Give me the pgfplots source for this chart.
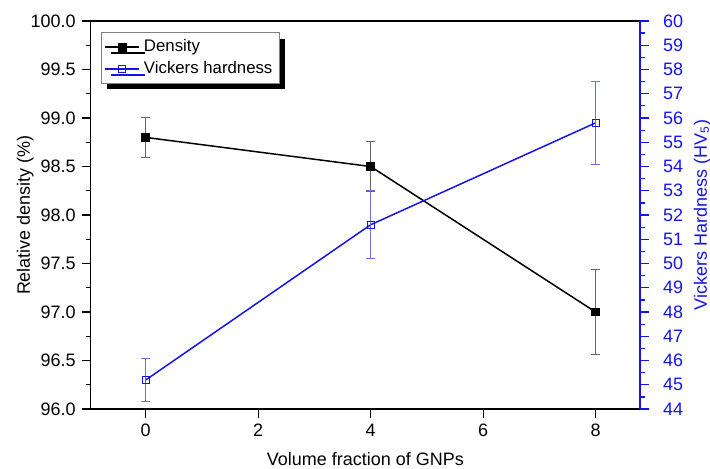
\documentclass[border=0pt]{standalone}
\usepackage{fontspec}
\setmainfont{Liberation Sans}
\usepackage{pgfplots}
\pgfplotsset{compat=1.18}
\usetikzlibrary{shadows}

\definecolor{hvblue}{RGB}{20,20,235}
\definecolor{hverr}{RGB}{110,110,230}
\definecolor{derr}{RGB}{100,100,100}

\pgfplotstableread{
x   y     e
0   98.80 0.21
4   98.50 0.26
8   97.00 0.44
}\density

\pgfplotstableread{
x   y     e
0   45.2  0.88
4   51.6  1.4
8   55.8  1.7
}\hardness

\begin{document}
\fontsize{9}{11}\selectfont
\begin{tikzpicture}
\pgfplotsset{
  every axis/.append style={
    scale only axis, width=275pt, height=194.25pt,
    xmin=-0.98, xmax=8.79,
    tick align=outside,
    major tick length=4.3pt, minor tick length=2.3pt,
    /pgf/number format/assume math mode=true,
    font=\fontsize{9}{11}\selectfont,
    axis line style={line width=0.75pt},
    every tick/.style={line width=0.6pt},
  },
}
\begin{axis}[
  name=ax,
  axis y line*=left, axis x line*=bottom,
  axis line style={-},
  xtick={0,2,4,6,8}, minor xtick={},
  ymin=96, ymax=100, ytick distance=0.5, minor y tick num=1,
  yticklabel style={/pgf/number format/.cd, fixed, fixed zerofill, precision=1},
  xlabel={Volume fraction of GNPs},
  xlabel style={at={(rel axis cs:0.5,-0.129)}, anchor=center},
  ylabel={Relative density (\%)},
  ylabel style={at={(rel axis cs:-0.119,0.5)}, anchor=center},
  legend cell align=left,
  legend image post style={mark size=1.8pt},
  legend style={at={(rel axis cs:0.0187,0.971)}, anchor=north west,
    draw=gray, line width=0.5pt, inner sep=1.5pt, row sep=-0.5pt,
    font=\fontsize{8.4}{9.5}\selectfont,
    drop shadow={shadow xshift=3pt, shadow yshift=-3pt, fill=black, opacity=1}},
]
\addplot[black, line width=0.75pt, mark=square*, mark size=1.8pt,
  mark options={solid, fill=black},
  error bars/.cd, y dir=both, y explicit,
  error bar style={derr, line width=0.5pt},
  error mark options={rotate=90, mark size=2.2pt, derr, line width=0.5pt}]
  table[x=x, y=y, y error=e] {\density};
\addlegendentry{Density}
\addlegendimage{hvblue, line width=0.75pt, mark=square, mark size=1.8pt, mark options={fill=white, line width=0.5pt}}
\addlegendentry{Vickers hardness}
\draw[line width=0.75pt] (rel axis cs:0,1) -- (rel axis cs:1,1);
\end{axis}
\begin{axis}[
  axis y line*=right, axis x line=none,
  axis line style={hvblue, -},
  y tick style={hvblue},
  yticklabel style={hvblue, xshift=4pt},
  ymin=44, ymax=60, ytick distance=1, minor y tick num=1,
  ylabel={Vickers Hardness (HV\textsubscript{5})},
  ylabel style={hvblue, at={(rel axis cs:1.113,0.5)}, anchor=center, rotate=0},
]
\addplot[hvblue, line width=0.75pt, mark=square, mark size=1.8pt,
  mark options={solid, fill=white, line width=0.5pt},
  error bars/.cd, y dir=both, y explicit,
  error bar style={hverr, line width=0.5pt},
  error mark options={rotate=90, mark size=2.2pt, hverr, line width=0.5pt}]
  table[x=x, y=y, y error=e] {\hardness};
\end{axis}
\pgfresetboundingbox
\path[use as bounding box] (-45.35pt,-29.75pt) rectangle (310pt,204.75pt);
\end{tikzpicture}
\end{document}
